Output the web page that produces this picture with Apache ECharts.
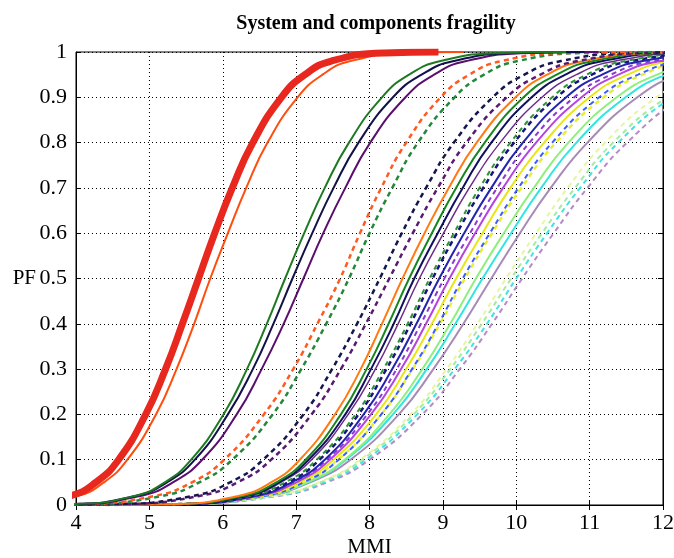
<!DOCTYPE html>
<html>
<head>
<meta charset="utf-8">
<script src="https://cdn.jsdelivr.net/npm/echarts@6/dist/echarts.min.js"></script>
<style>
  html, body { margin: 0; padding: 0; background: #fff; }
  #chart { width: 674px; height: 558px; }
</style>
</head>
<body>
<div id="chart"></div>
<script>
var pfLevels = [0.0001, 0.002, 0.02, 0.05, 0.1, 0.2, 0.3, 0.4, 0.5, 0.6, 0.7, 0.8, 0.9, 0.95, 0.98, 0.998, 0.9999];

// MMI where each curve reaches the level above
var sys            = [2.51, 3.22, 3.92, 4.27, 4.58, 4.95, 5.22, 5.45, 5.67, 5.89, 6.13, 6.41, 6.80, 7.12, 7.48, 8.20, 8.94];
var orangeA        = [2.56, 3.30, 4.02, 4.38, 4.70, 5.09, 5.37, 5.61, 5.83, 6.07, 6.32, 6.61, 7.02, 7.36, 7.74, 8.51, 9.29];
var greenA         = [3.13, 3.97, 4.80, 5.21, 5.57, 6.01, 6.33, 6.60, 6.85, 7.11, 7.39, 7.72, 8.17, 8.54, 8.97, 9.81, 10.68];
var navyA          = [3.08, 3.96, 4.81, 5.24, 5.62, 6.07, 6.41, 6.69, 6.95, 7.22, 7.51, 7.85, 8.32, 8.71, 9.15, 10.03, 10.93];
var purpleA        = [3.08, 3.99, 4.88, 5.32, 5.72, 6.19, 6.53, 6.83, 7.10, 7.37, 7.67, 8.01, 8.49, 8.88, 9.32, 10.21, 11.12];
var orangeDashA    = [3.03, 4.06, 5.07, 5.58, 6.02, 6.56, 6.96, 7.29, 7.60, 7.87, 8.16, 8.50, 8.97, 9.36, 9.80, 10.68, 11.58];
var greenDashA     = [3.11, 4.15, 5.17, 5.68, 6.13, 6.68, 7.07, 7.41, 7.72, 8.00, 8.31, 8.66, 9.16, 9.56, 10.02, 10.94, 11.89];
var navyDashA      = [3.53, 4.57, 5.59, 6.10, 6.55, 7.10, 7.49, 7.83, 8.14, 8.44, 8.77, 9.15, 9.68, 10.11, 10.61, 11.59, 12.60];
var purpleDashA    = [3.58, 4.64, 5.68, 6.20, 6.66, 7.21, 7.61, 7.95, 8.27, 8.59, 8.93, 9.32, 9.87, 10.33, 10.84, 11.87, 12.92];
var orangeB        = [4.40, 5.31, 6.21, 6.66, 7.05, 7.53, 7.88, 8.17, 8.45, 8.75, 9.08, 9.46, 9.99, 10.42, 10.92, 11.90, 12.91];
var greenB         = [4.45, 5.37, 6.28, 6.73, 7.13, 7.61, 7.96, 8.26, 8.54, 8.85, 9.18, 9.57, 10.10, 10.55, 11.05, 12.05, 13.08];
var navyB          = [4.45, 5.39, 6.31, 6.77, 7.17, 7.67, 8.02, 8.33, 8.61, 8.93, 9.27, 9.66, 10.21, 10.67, 11.18, 12.21, 13.26];
var purpleB        = [4.40, 5.37, 6.32, 6.79, 7.21, 7.71, 8.08, 8.39, 8.68, 9.01, 9.36, 9.78, 10.35, 10.82, 11.35, 12.42, 13.52];
var greenDashB     = [4.36, 5.37, 6.36, 6.85, 7.28, 7.81, 8.19, 8.52, 8.82, 9.15, 9.50, 9.92, 10.49, 10.96, 11.49, 12.56, 13.66];
var navyDashB      = [4.40, 5.41, 6.40, 6.89, 7.32, 7.85, 8.23, 8.56, 8.86, 9.19, 9.55, 9.97, 10.55, 11.03, 11.57, 12.66, 13.77];
var blueSolid      = [4.41, 5.44, 6.44, 6.94, 7.39, 7.92, 8.31, 8.64, 8.95, 9.29, 9.66, 10.09, 10.68, 11.17, 11.72, 12.84, 13.97];
var violetDash     = [4.37, 5.42, 6.45, 6.96, 7.42, 7.97, 8.37, 8.70, 9.02, 9.37, 9.74, 10.18, 10.79, 11.29, 11.86, 12.99, 14.15];
var magentaSolid   = [4.37, 5.44, 6.48, 7.00, 7.46, 8.02, 8.43, 8.77, 9.09, 9.44, 9.82, 10.27, 10.89, 11.39, 11.97, 13.12, 14.30];
var yellowSolid    = [4.35, 5.44, 6.51, 7.04, 7.51, 8.09, 8.50, 8.85, 9.18, 9.54, 9.92, 10.38, 11.00, 11.52, 12.10, 13.27, 14.46];
var blueDash       = [4.36, 5.47, 6.56, 7.10, 7.58, 8.16, 8.58, 8.94, 9.27, 9.64, 10.03, 10.49, 11.13, 11.66, 12.25, 13.44, 14.66];
var yellowDash     = [4.28, 5.42, 6.53, 7.08, 7.57, 8.16, 8.59, 8.96, 9.30, 9.67, 10.07, 10.54, 11.19, 11.72, 12.32, 13.53, 14.77];
var lightGreenSolid= [4.24, 5.42, 6.57, 7.15, 7.66, 8.27, 8.72, 9.10, 9.45, 9.83, 10.24, 10.71, 11.37, 11.92, 12.53, 13.77, 15.03];
var cyanSolid      = [4.15, 5.37, 6.56, 7.16, 7.68, 8.32, 8.78, 9.17, 9.54, 9.93, 10.34, 10.82, 11.49, 12.04, 12.66, 13.92, 15.19];
var lavenderSolid  = [4.08, 5.34, 6.58, 7.19, 7.74, 8.40, 8.87, 9.28, 9.66, 10.05, 10.47, 10.97, 11.65, 12.21, 12.84, 14.12, 15.42];
var paleYellowDash = [4.10, 5.40, 6.68, 7.31, 7.87, 8.56, 9.05, 9.47, 9.86, 10.27, 10.70, 11.21, 11.91, 12.49, 13.15, 14.47, 15.81];
var lightGreenDash = [4.05, 5.38, 6.68, 7.33, 7.90, 8.60, 9.10, 9.53, 9.93, 10.35, 10.80, 11.32, 12.05, 12.64, 13.32, 14.68, 16.07];
var cyanDash       = [4.05, 5.40, 6.71, 7.37, 7.95, 8.65, 9.16, 9.60, 10.00, 10.42, 10.87, 11.39, 12.12, 12.71, 13.39, 14.75, 16.14];
var lavenderDash   = [4.06, 5.42, 6.75, 7.42, 8.00, 8.72, 9.23, 9.67, 10.08, 10.51, 10.97, 11.51, 12.26, 12.88, 13.57, 14.97, 16.40];

var xTicks = ['4', '5', '6', '7', '8', '9', '10', '11', '12'];
var yTicks = ['0', '0.1', '0.2', '0.3', '0.4', '0.5', '0.6', '0.7', '0.8', '0.9', '1'];

// [values, colour, dashed, width]  -- drawn in this order
var curves = [
  [lavenderDash,   '#b68ac6', true, 2],
  [cyanDash,       '#3fe3e6', true, 2],
  [lightGreenDash, '#a6eaa0', true, 2],
  [paleYellowDash, '#e6f6a0', true, 2],
  [lavenderSolid,  '#a78ab5', false, 2],
  [cyanSolid,      '#2fe6e0', false, 2],
  [lightGreenSolid,'#8ef07c', false, 2],
  [yellowDash,     '#e6ef34', true, 2.5],
  [blueDash,       '#3d5cff', true, 2],
  [yellowSolid,    '#e8e612', false, 2],
  [magentaSolid,   '#b444e0', false, 2],
  [violetDash,     '#8a3ad2', true, 2],
  [blueSolid,      '#2424b0', false, 2],
  [navyDashB,      '#16167a', true, 2.5],
  [greenDashB,     '#2f9438', true, 2],
  [purpleB,        '#6c2d8c', false, 1.5],
  [navyB,          '#10105e', false, 2],
  [greenB,         '#17861e', false, 2],
  [orangeB,        '#ff7a12', false, 2],
  [purpleDashA,    '#5b1a72', true, 2.5],
  [navyDashA,      '#16164e', true, 2.5],
  [greenDashA,     '#24883a', true, 2.5],
  [orangeDashA,    '#ff5a22', true, 2.5],
  [purpleA,        '#5a0f6e', false, 2],
  [navyA,          '#12124a', false, 2],
  [greenA,         '#1e7a22', false, 2],
  [orangeA,        '#ff4d0e', false, 2],
  [sys,            '#e8281e', false, 7]
];

var serif = 'Liberation Serif';

var series = curves.map(function (c) {
  return {
    type: 'line',
    showSymbol: false,
    smooth: 0.5,
    clip: true,
    silent: true,
    lineStyle: { color: c[1], width: c[3], type: c[2] ? [5, 4] : 'solid', cap: 'butt' },
    data: c[0].map(function (m, i) { return [m, pfLevels[i]]; })
  };
});

var chart = echarts.init(document.getElementById('chart'));
chart.setOption({
  animation: false,
  backgroundColor: '#fff',
  title: {
    text: 'System and components fragility',
    left: 371, top: 9, textAlign: 'center',
    textStyle: { fontFamily: serif, fontWeight: 'bold', fontSize: 20, color: '#000' }
  },
  grid: {
    left: 76, right: 11, top: 52, bottom: 53,
    outerBoundsMode: 'none', containLabel: false,
    show: true, borderColor: '#000', borderWidth: 1
  },
  xAxis: [{
    type: 'value', min: 4, max: 12, interval: 1, position: 'bottom',
    name: 'MMI', nameLocation: 'middle', nameGap: 32, nameMoveOverlap: false,
    nameTextStyle: { fontFamily: serif, fontSize: 21, color: '#000' },
    axisLine: { show: true, lineStyle: { color: '#000' } },
    axisTick: { inside: true, length: 5, lineStyle: { color: '#000' } },
    axisLabel: { fontFamily: serif, fontSize: 22, color: '#000', margin: 7,
      formatter: function (v) { return xTicks[Math.round(v - 4)]; } },
    splitLine: { show: true, lineStyle: { color: '#000', type: [1, 3], width: 1 } }
  }, {
    type: 'value', min: 4, max: 12, interval: 1, position: 'top',
    axisLine: { show: true, lineStyle: { color: '#000' } },
    axisTick: { inside: true, length: 5, lineStyle: { color: '#000' } },
    axisLabel: { show: false }, splitLine: { show: false }
  }],
  yAxis: [{
    type: 'value', min: 0, max: 1, interval: 0.1, position: 'left',
    name: 'PF', nameLocation: 'middle', nameGap: 40, nameRotate: 0, nameMoveOverlap: false,
    nameTextStyle: { fontFamily: serif, fontSize: 21, color: '#000', align: 'right' },
    axisLine: { show: true, lineStyle: { color: '#000' } },
    axisTick: { inside: true, length: 5, lineStyle: { color: '#000' } },
    axisLabel: { fontFamily: serif, fontSize: 22, color: '#000', margin: 9,
      formatter: function (v) { return yTicks[Math.round(v * 10)]; } },
    splitLine: { show: true, lineStyle: { color: '#000', type: [1, 3], width: 1 } }
  }, {
    type: 'value', min: 0, max: 1, interval: 0.1, position: 'right',
    axisLine: { show: true, lineStyle: { color: '#000' } },
    axisTick: { inside: true, length: 5, lineStyle: { color: '#000' } },
    axisLabel: { show: false }, splitLine: { show: false }
  }],
  series: series
});
</script>
</body>
</html>
